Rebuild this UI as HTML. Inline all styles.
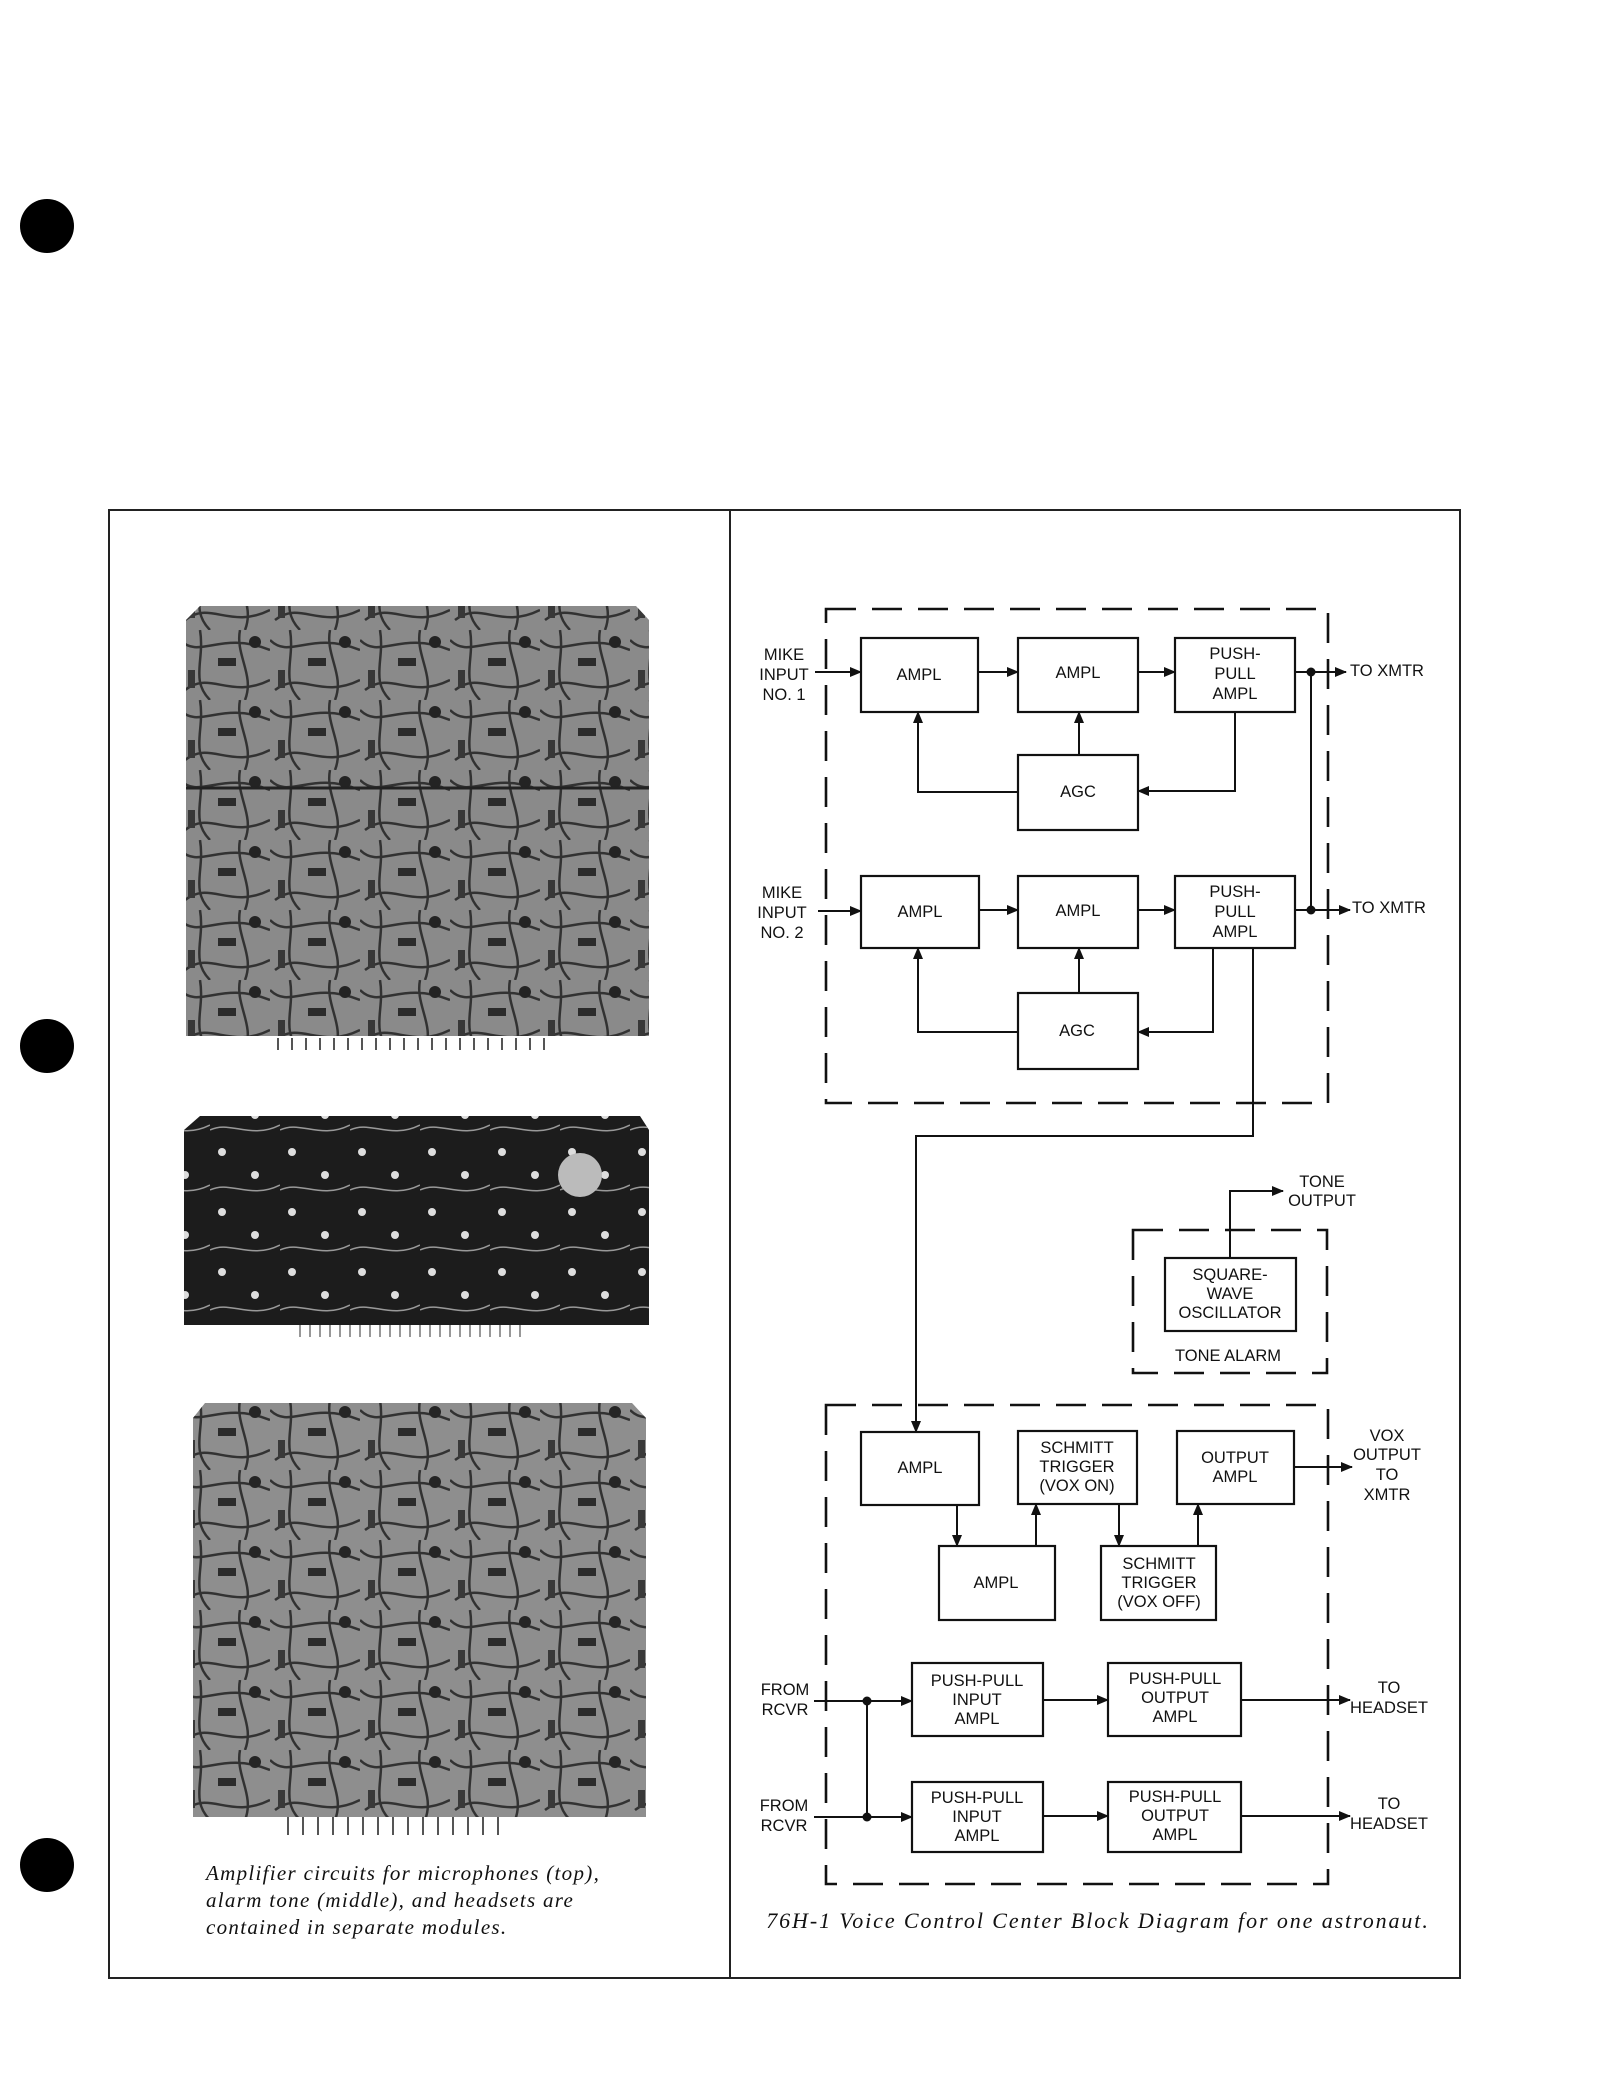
<!DOCTYPE html>
<html><head><meta charset="utf-8"><style>
html,body{margin:0;padding:0;background:#fff;}
svg{display:block;}
.t{font-family:"Liberation Sans",sans-serif;font-size:16.5px;fill:#111;text-anchor:middle;dominant-baseline:central;}
.ts{font-family:"Liberation Sans",sans-serif;font-size:16.5px;fill:#111;dominant-baseline:central;}
.b{fill:none;stroke:#111;stroke-width:2.2;}
.l{fill:none;stroke:#111;stroke-width:2;}
.d{fill:none;stroke:#111;stroke-width:2.6;stroke-dasharray:30 16;}
.cap{font-family:"Liberation Serif",serif;font-style:italic;font-size:21px;fill:#111;letter-spacing:1.3px;}
.cap2{font-family:"Liberation Serif",serif;font-style:italic;font-size:22px;fill:#111;letter-spacing:1.9px;}
</style></head><body>
<svg width="1600" height="2089" viewBox="0 0 1600 2089" xmlns="http://www.w3.org/2000/svg">
<defs>
<marker id="a" markerWidth="12" markerHeight="10" refX="11" refY="5" orient="auto" markerUnits="userSpaceOnUse">
<path d="M0,0 L12,5 L0,10 z" fill="#111"/></marker>
<pattern id="wires" width="90" height="70" patternUnits="userSpaceOnUse">
<path d="M0,10 C20,30 40,0 90,20 M5,60 C30,40 50,70 90,50 M20,0 C25,30 10,50 30,70 M60,0 C55,25 75,45 65,70" stroke="#222" stroke-width="2.5" fill="none"/>
<rect x="38" y="28" width="18" height="8" fill="#1a1a1a"/>
<rect x="8" y="40" width="7" height="18" fill="#2a2a2a"/>
<circle cx="75" cy="12" r="6" fill="#111"/>
</pattern>
<pattern id="wires2" width="70" height="60" patternUnits="userSpaceOnUse">
<circle cx="12" cy="12" r="4" fill="#ddd"/>
<circle cx="45" cy="35" r="4" fill="#ddd"/>
<path d="M0,50 C20,40 40,60 70,45" stroke="#999" stroke-width="1.5" fill="none"/>
</pattern>
</defs>

<circle cx="47" cy="226" r="27" fill="#000"/>
<circle cx="47" cy="1046" r="27" fill="#000"/>
<circle cx="47" cy="1865" r="27" fill="#000"/>

<rect x="109" y="510" width="1351" height="1468" fill="none" stroke="#222" stroke-width="2"/>
<line x1="730" y1="510" x2="730" y2="1978" stroke="#222" stroke-width="2"/>

<path d="M200,606 L636,606 L649,620 L649,1036 L186,1036 L186,620 Z" fill="#8a8a8a"/>
<path d="M200,606 L636,606 L649,620 L649,1036 L186,1036 L186,620 Z" fill="url(#wires)" opacity="0.85"/>
<line x1="186" y1="788" x2="649" y2="788" stroke="#222" stroke-width="3"/>
<g stroke="#555" stroke-width="2">
<path d="M278,1038 v12 M292,1038 v12 M306,1038 v12 M320,1038 v12 M334,1038 v12 M348,1038 v12 M362,1038 v12 M376,1038 v12 M390,1038 v12 M404,1038 v12 M418,1038 v12 M432,1038 v12 M446,1038 v12 M460,1038 v12 M474,1038 v12 M488,1038 v12 M502,1038 v12 M516,1038 v12 M530,1038 v12 M544,1038 v12"/>
</g>
<path d="M200,1116 L640,1116 L649,1130 L649,1325 L184,1325 L184,1130 Z" fill="#1c1c1c"/>
<path d="M200,1116 L640,1116 L649,1130 L649,1325 L184,1325 L184,1130 Z" fill="url(#wires2)"/>
<circle cx="580" cy="1175" r="22" fill="#bbb"/>
<g stroke="#777" stroke-width="1.5"><path d="M300,1325 v12 M310,1325 v12 M320,1325 v12 M330,1325 v12 M340,1325 v12 M350,1325 v12 M360,1325 v12 M370,1325 v12 M380,1325 v12 M390,1325 v12 M400,1325 v12 M410,1325 v12 M420,1325 v12 M430,1325 v12 M440,1325 v12 M450,1325 v12 M460,1325 v12 M470,1325 v12 M480,1325 v12 M490,1325 v12 M500,1325 v12 M510,1325 v12 M520,1325 v12"/></g>
<path d="M205,1403 L632,1403 L646,1418 L646,1817 L193,1817 L193,1418 Z" fill="#8e8e8e"/>
<path d="M205,1403 L632,1403 L646,1418 L646,1817 L193,1817 L193,1418 Z" fill="url(#wires)" opacity="0.85"/>
<g stroke="#555" stroke-width="2"><path d="M288,1817 v18 M303,1817 v18 M318,1817 v18 M333,1817 v18 M348,1817 v18 M363,1817 v18 M378,1817 v18 M393,1817 v18 M408,1817 v18 M423,1817 v18 M438,1817 v18 M453,1817 v18 M468,1817 v18 M483,1817 v18 M498,1817 v18"/></g>

<text class="cap" x="206" y="1880">Amplifier circuits for microphones (top),</text>
<text class="cap" x="206" y="1907">alarm tone (middle), and headsets are</text>
<text class="cap" x="206" y="1934">contained in separate modules.</text>

<rect class="d" x="826" y="609" width="502" height="494"/>
<rect class="b" x="861" y="638" width="117" height="74"/><text class="t" x="919" y="675">AMPL</text>
<rect class="b" x="1018" y="638" width="120" height="74"/><text class="t" x="1078" y="673">AMPL</text>
<rect class="b" x="1175" y="638" width="120" height="74"/>
<text class="t" x="1235" y="654">PUSH-</text><text class="t" x="1235" y="674">PULL</text><text class="t" x="1235" y="694">AMPL</text>
<text class="t" x="784" y="655">MIKE</text><text class="t" x="784" y="675">INPUT</text><text class="t" x="784" y="695">NO. 1</text>
<line class="l" x1="815" y1="672" x2="861" y2="672" marker-end="url(#a)"/>
<line class="l" x1="978" y1="672" x2="1018" y2="672" marker-end="url(#a)"/>
<line class="l" x1="1138" y1="672" x2="1175" y2="672" marker-end="url(#a)"/>
<line class="l" x1="1295" y1="672" x2="1346" y2="672" marker-end="url(#a)"/>
<circle cx="1311" cy="672" r="4.5" fill="#111"/>
<text class="ts" x="1350" y="671">TO XMTR</text>
<rect class="b" x="1018" y="755" width="120" height="75"/><text class="t" x="1078" y="792">AGC</text>
<line class="l" x1="1079" y1="755" x2="1079" y2="712" marker-end="url(#a)"/>
<polyline class="l" points="1018,792 918,792 918,712" marker-end="url(#a)"/>
<polyline class="l" points="1235,712 1235,791 1138,791" marker-end="url(#a)"/>
<rect class="b" x="861" y="876" width="118" height="72"/><text class="t" x="920" y="912">AMPL</text>
<rect class="b" x="1018" y="876" width="120" height="72"/><text class="t" x="1078" y="911">AMPL</text>
<rect class="b" x="1175" y="876" width="120" height="72"/>
<text class="t" x="1235" y="892">PUSH-</text><text class="t" x="1235" y="912">PULL</text><text class="t" x="1235" y="932">AMPL</text>
<text class="t" x="782" y="893">MIKE</text><text class="t" x="782" y="913">INPUT</text><text class="t" x="782" y="933">NO. 2</text>
<line class="l" x1="818" y1="911" x2="861" y2="911" marker-end="url(#a)"/>
<line class="l" x1="979" y1="910" x2="1018" y2="910" marker-end="url(#a)"/>
<line class="l" x1="1138" y1="910" x2="1175" y2="910" marker-end="url(#a)"/>
<line class="l" x1="1295" y1="910" x2="1350" y2="910" marker-end="url(#a)"/>
<circle cx="1311" cy="910" r="4.5" fill="#111"/>
<line class="l" x1="1311" y1="672" x2="1311" y2="910"/>
<text class="ts" x="1352" y="908">TO XMTR</text>
<rect class="b" x="1018" y="993" width="120" height="76"/><text class="t" x="1077" y="1031">AGC</text>
<line class="l" x1="1079" y1="993" x2="1079" y2="948" marker-end="url(#a)"/>
<polyline class="l" points="1018,1032 918,1032 918,948" marker-end="url(#a)"/>
<polyline class="l" points="1213,948 1213,1032 1138,1032" marker-end="url(#a)"/>
<polyline class="l" points="1253,948 1253,1136 916,1136 916,1432" marker-end="url(#a)"/>

<rect class="d" x="1133" y="1230" width="194" height="143"/>
<rect class="b" x="1165" y="1258" width="131" height="73"/>
<text class="t" x="1230" y="1275">SQUARE-</text><text class="t" x="1230" y="1294">WAVE</text><text class="t" x="1230" y="1313">OSCILLATOR</text>
<polyline class="l" points="1230,1258 1230,1191 1283,1191" marker-end="url(#a)"/>
<text class="t" x="1322" y="1182">TONE</text><text class="t" x="1322" y="1201">OUTPUT</text>
<text class="t" x="1228" y="1356">TONE  ALARM</text>

<rect class="d" x="826" y="1405" width="502" height="479"/>
<rect class="b" x="861" y="1432" width="118" height="73"/><text class="t" x="920" y="1468">AMPL</text>
<rect class="b" x="1018" y="1431" width="119" height="73"/>
<text class="t" x="1077" y="1448">SCHMITT</text><text class="t" x="1077" y="1467">TRIGGER</text><text class="t" x="1077" y="1486">(VOX ON)</text>
<rect class="b" x="1177" y="1431" width="117" height="73"/>
<text class="t" x="1235" y="1458">OUTPUT</text><text class="t" x="1235" y="1477">AMPL</text>
<rect class="b" x="939" y="1546" width="116" height="74"/><text class="t" x="996" y="1583">AMPL</text>
<rect class="b" x="1101" y="1546" width="115" height="74"/>
<text class="t" x="1159" y="1564">SCHMITT</text><text class="t" x="1159" y="1583">TRIGGER</text><text class="t" x="1159" y="1602">(VOX OFF)</text>
<line class="l" x1="957" y1="1505" x2="957" y2="1546" marker-end="url(#a)"/>
<line class="l" x1="1036" y1="1546" x2="1036" y2="1504" marker-end="url(#a)"/>
<line class="l" x1="1119" y1="1504" x2="1119" y2="1546" marker-end="url(#a)"/>
<line class="l" x1="1198" y1="1546" x2="1198" y2="1504" marker-end="url(#a)"/>
<line class="l" x1="1294" y1="1467" x2="1352" y2="1467" marker-end="url(#a)"/>
<text class="t" x="1387" y="1436">VOX</text><text class="t" x="1387" y="1455">OUTPUT</text><text class="t" x="1387" y="1475">TO</text><text class="t" x="1387" y="1495">XMTR</text>

<rect class="b" x="912" y="1663" width="131" height="73"/>
<text class="t" x="977" y="1681">PUSH-PULL</text><text class="t" x="977" y="1700">INPUT</text><text class="t" x="977" y="1719">AMPL</text>
<rect class="b" x="1108" y="1663" width="133" height="73"/>
<text class="t" x="1175" y="1679">PUSH-PULL</text><text class="t" x="1175" y="1698">OUTPUT</text><text class="t" x="1175" y="1717">AMPL</text>
<rect class="b" x="912" y="1782" width="131" height="70"/>
<text class="t" x="977" y="1798">PUSH-PULL</text><text class="t" x="977" y="1817">INPUT</text><text class="t" x="977" y="1836">AMPL</text>
<rect class="b" x="1108" y="1782" width="133" height="70"/>
<text class="t" x="1175" y="1797">PUSH-PULL</text><text class="t" x="1175" y="1816">OUTPUT</text><text class="t" x="1175" y="1835">AMPL</text>
<line class="l" x1="814" y1="1701" x2="912" y2="1701" marker-end="url(#a)"/>
<line class="l" x1="814" y1="1817" x2="912" y2="1817" marker-end="url(#a)"/>
<line class="l" x1="867" y1="1701" x2="867" y2="1817"/>
<circle cx="867" cy="1701" r="4.5" fill="#111"/><circle cx="867" cy="1817" r="4.5" fill="#111"/>
<line class="l" x1="1043" y1="1700" x2="1108" y2="1700" marker-end="url(#a)"/>
<line class="l" x1="1043" y1="1816" x2="1108" y2="1816" marker-end="url(#a)"/>
<line class="l" x1="1241" y1="1700" x2="1350" y2="1700" marker-end="url(#a)"/>
<line class="l" x1="1241" y1="1816" x2="1350" y2="1816" marker-end="url(#a)"/>
<text class="t" x="785" y="1690">FROM</text><text class="t" x="785" y="1710">RCVR</text>
<text class="t" x="784" y="1806">FROM</text><text class="t" x="784" y="1826">RCVR</text>
<text class="t" x="1389" y="1688">TO</text><text class="t" x="1389" y="1708">HEADSET</text>
<text class="t" x="1389" y="1804">TO</text><text class="t" x="1389" y="1824">HEADSET</text>

<text class="cap2" x="1098" y="1928" text-anchor="middle">76H-1 Voice Control Center Block Diagram for one astronaut.</text>
</svg>
</body></html>
